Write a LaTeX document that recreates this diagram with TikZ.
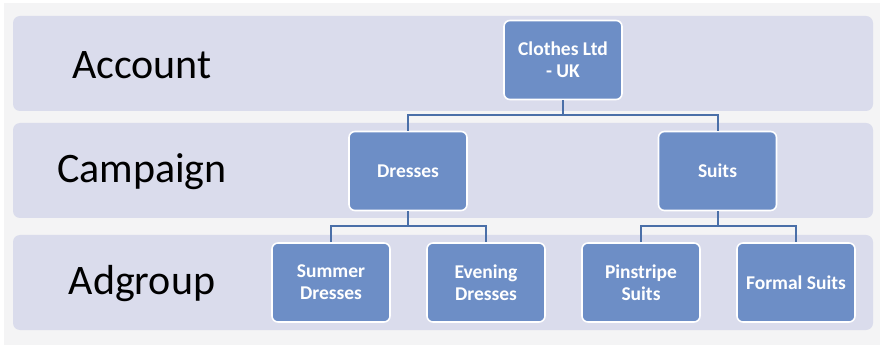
\documentclass[tikz,border=0pt]{standalone}
\usepackage{fontspec}
\setmainfont{Carlito}
\definecolor{pagebg}{HTML}{F4F4F5}
\definecolor{bandfill}{HTML}{DADCEC}
\definecolor{boxfill}{HTML}{6D8EC6}
\definecolor{linkcol}{HTML}{4A6FA8}
\begin{document}
\begin{tikzpicture}[x=1pt,y=-1pt,
  band/.style={fill=bandfill,rounded corners=7pt},
  level/.style={font=\fontsize{42}{50}\selectfont,text=black,inner sep=0pt},
  orgbox/.style={draw=white,line width=1.6pt,fill=boxfill,rounded corners=6pt,
    minimum width=118pt,minimum height=79pt,inner sep=2pt,align=center,
    text=white,font=\bfseries\fontsize{19.5}{22}\selectfont},
  conn/.style={draw=linkcol,line width=2pt}]
  % page
  \useasboundingbox (0,0) rectangle (880,347);
  \fill[white] (0,0) rectangle (880,347);
  \fill[pagebg] (4,3) rectangle (880,345);
  % level bands
  \path[band] (13,16) rectangle (873,111);
  \path[band] (13,123) rectangle (873,218);
  \path[band] (13,235) rectangle (873,330);
  % level names
  \node[level] (lAccount) at (142,65) {Account};
  \node[level] (lCampaign) at (142,172) {Campaign};
  \node[level] (lAdgroup) at (142,284) {Adgroup};
  % hierarchy boxes
  \node[orgbox] (clothes) at (563,60) {Clothes Ltd\\- UK};
  \node[orgbox] (dresses) at (408,171) {Dresses};
  \node[orgbox] (suits) at (717.5,171) {Suits};
  \node[orgbox] (summer) at (331,282.5) {Summer\\Dresses};
  \node[orgbox] (evening) at (486,282.5) {Evening\\Dresses};
  \node[orgbox] (pinstripe) at (641,282.5) {Pinstripe\\Suits};
  \node[orgbox] (formal) at (796,282.5) {Formal Suits};
  % branch points
  \coordinate (hubA) at (563,115);
  \coordinate (hubD) at (408,226);
  \coordinate (hubS) at (717.5,226);
  % connectors
  \draw[conn] (clothes.south) -- (hubA);
  \draw[conn] (dresses.north) |- (hubA) -| (suits.north);
  \draw[conn] (dresses.south) -- (hubD);
  \draw[conn] (summer.north) |- (hubD) -| (evening.north);
  \draw[conn] (suits.south) -- (hubS);
  \draw[conn] (pinstripe.north) |- (hubS) -| (formal.north);
\end{tikzpicture}
\end{document}
